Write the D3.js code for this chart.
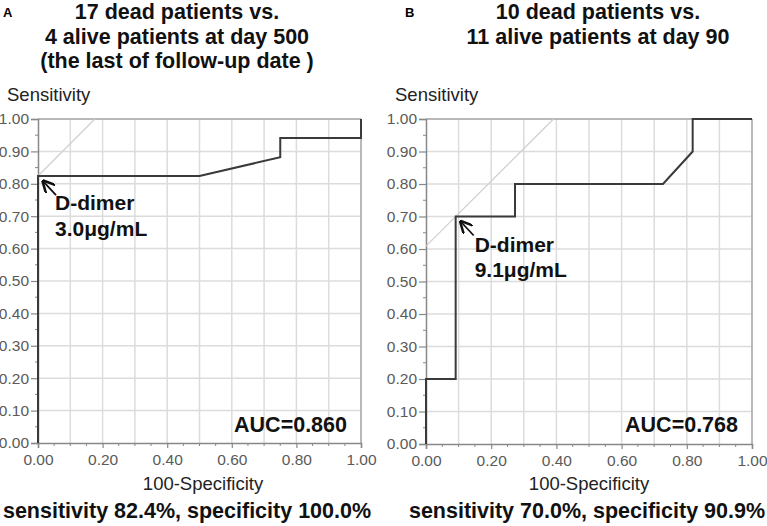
<!DOCTYPE html>
<html><head><meta charset="utf-8">
<script src="https://cdn.jsdelivr.net/npm/d3@7"></script>
<style>body{margin:0;background:#fff;} svg{display:block;font-family:"Liberation Sans",Arial,sans-serif;}</style>
</head><body>
<svg id="c" width="767" height="526"></svg>
<script>
// ---- data ----
const panelLetters = ["A", "B"];
const titlesA = ["17 dead patients vs.", "4 alive patients at day 500", "(the last of follow-up date )"];
const titlesB = ["10 dead patients vs.", "11 alive patients at day 90"];
const fprA = [0, 0, 0.5, 0.75, 0.75, 1, 1];
const tprA = [0, 0.824, 0.824, 0.882, 0.941, 0.941, 1];
const fprB = [0, 0, 0.091, 0.091, 0.273, 0.273, 0.727, 0.818, 0.818, 1];
const tprB = [0, 0.2, 0.2, 0.7, 0.7, 0.8, 0.8, 0.9, 1, 1];
const cutA = {fpr: 0, tpr: 0.824, label: ["D-dimer", "3.0μg/mL"]};
const cutB = {fpr: 0.091, tpr: 0.7, label: ["D-dimer", "9.1μg/mL"]};
const aucA = "AUC=0.860";
const aucB = "AUC=0.768";
const footA = "sensitivity 82.4%, specificity 100.0%";
const footB = "sensitivity 70.0%, specificity 90.9%";
const tickValues = [0, 0.1, 0.2, 0.3, 0.4, 0.5, 0.6, 0.7, 0.8, 0.9, 1.0];
const minorValues = [0.05, 0.15, 0.25, 0.35, 0.45, 0.55, 0.65, 0.75, 0.85, 0.95];
const yLabel = "Sensitivity";
const xLabel = "100-Specificity";

const svg = d3.select("#c");
svg.append("defs").append("marker").attr("id","arr").attr("viewBox","0 0 10 10")
  .attr("refX",9).attr("refY",5).attr("markerWidth",7).attr("markerHeight",7).attr("orient","auto")
  .append("path").attr("d","M0,0 L10,5 L0,10").attr("fill","none").attr("stroke","#111").attr("stroke-width",2);

function panel(o) {
  const g = svg.append("g");
  const x = d3.scaleLinear().domain([0,1]).range([o.x0, o.x1]);
  const y = d3.scaleLinear().domain([0,1]).range([o.y0, o.y1]);
  // letter
  g.append("text").attr("x", o.letterX).attr("y", 17).attr("font-size", 13).attr("font-weight","bold").text(o.letter);
  // title
  o.titles.forEach((t,i)=> g.append("text").attr("x", o.titleCx).attr("y", 19 + i*24.5)
    .attr("text-anchor","middle").attr("font-size", 21.5).attr("font-weight","bold").attr("fill","#111").text(t));
  // y label
  g.append("text").attr("x", o.x0 - 31).attr("y", 101).attr("font-size", 18.5).attr("fill","#222").text(yLabel);
  // grid
  g.append("g").selectAll("line").data(tickValues.slice(1)).join("line")
    .attr("x1", d=>x(d)).attr("x2", d=>x(d)).attr("y1", y(0)).attr("y2", y(1))
    .attr("stroke","#dcdcdc").attr("stroke-width",1.5);
  g.append("g").selectAll("line").data(tickValues.slice(1)).join("line")
    .attr("y1", d=>y(d)).attr("y2", d=>y(d)).attr("x1", x(0)).attr("x2", x(1))
    .attr("stroke","#dcdcdc").attr("stroke-width",1.5);
  // frame top/right
  g.append("line").attr("x1",x(0)).attr("x2",x(1)).attr("y1",y(1)).attr("y2",y(1)).attr("stroke","#aaa").attr("stroke-width",1.5);
  g.append("line").attr("x1",x(1)).attr("x2",x(1)).attr("y1",y(0)).attr("y2",y(1)).attr("stroke","#aaa").attr("stroke-width",1.5);
  // axes
  const ya = d3.axisLeft(y).tickValues(tickValues).tickFormat(d3.format(".2f")).tickSize(7).tickPadding(2);
  const yg = g.append("g").attr("transform",`translate(${x(0)},0)`).call(ya);
  const xa = d3.axisBottom(x).tickValues(tickValues.filter((d,i)=>i%2===0)).tickFormat(d3.format(".2f")).tickSize(5).tickPadding(6);
  const xg = g.append("g").attr("transform",`translate(0,${y(0)})`).call(xa);
  [yg,xg].forEach(a=>{
    a.select(".domain").attr("stroke","#888").attr("stroke-width",1.5);
    a.selectAll(".tick line").attr("stroke","#888").attr("stroke-width",1.2);
    a.selectAll(".tick text").attr("font-size",15.5).attr("fill","#5a5a5a").attr("font-family","Liberation Sans, Arial, sans-serif");
  });
  // minor / odd ticks
  g.append("g").selectAll("line").data(minorValues).join("line")
    .attr("x1", x(0)-3).attr("x2", x(0)).attr("y1", d=>y(d)).attr("y2", d=>y(d)).attr("stroke","#888");
  g.append("g").selectAll("line").data(minorValues.concat([0.1,0.3,0.5,0.7,0.9])).join("line")
    .attr("y1", y(0)).attr("y2", y(0)+3).attr("x1", d=>x(d)).attr("x2", d=>x(d)).attr("stroke","#888");
  // x label
  g.append("text").attr("x", o.xLabCx).attr("y", 490).attr("text-anchor","middle").attr("font-size",18.5).attr("fill","#222").text(xLabel);
  // tangent line through cutoff
  const c = o.tpr_cut - o.fpr_cut;
  g.append("line").attr("x1", x(0)).attr("y1", y(c)).attr("x2", x(1-c)).attr("y2", y(1))
    .attr("stroke","#cfcfcf").attr("stroke-width",1.2);
  // ROC curve
  const pts = o.fpr.map((f,i)=>[f, o.tpr[i]]);
  g.append("path").datum(pts).attr("d", d3.line().x(d=>x(d[0])).y(d=>y(d[1])))
    .attr("fill","none").attr("stroke","#3a3a3a").attr("stroke-width",2);
  // annotation
  const ax = x(o.fpr_cut), ay = y(o.tpr_cut);
  g.append("line").attr("x1", ax+18).attr("y1", ay+19).attr("x2", ax+5).attr("y2", ay+5)
    .attr("stroke","#111").attr("stroke-width",1.8).attr("marker-end","url(#arr)");
  o.label.forEach((t,i)=> g.append("text").attr("x", ax+o.labDx).attr("y", ay+o.labDy+i*25.5)
    .attr("font-size",21).attr("font-weight","bold").attr("fill","#111").text(t));
  // AUC
  g.append("text").attr("x", o.aucX).attr("y", 432).attr("text-anchor","end").attr("font-size",21.5)
    .attr("font-weight","bold").attr("fill","#111").text(o.auc);
  // footer
  g.append("text").attr("x", o.footCx).attr("y", 518).attr("text-anchor","middle").attr("font-size",21.5)
    .attr("font-weight","bold").attr("fill","#111").text(o.foot);
}

panel({letter: panelLetters[0], letterX: 3, titles: titlesA, titleCx: 177, x0: 38, x1: 361, y0: 443, y1: 119,
  fpr: fprA, tpr: tprA, fpr_cut: cutA.fpr, tpr_cut: cutA.tpr, label: cutA.label, labDx: 17, labDy: 34,
  auc: aucA, aucX: 347, foot: footA, footCx: 187, xLabCx: 203});
panel({letter: panelLetters[1], letterX: 405, titles: titlesB, titleCx: 598, x0: 426, x1: 752, y0: 444, y1: 119,
  fpr: fprB, tpr: tprB, fpr_cut: cutB.fpr, tpr_cut: cutB.tpr, label: cutB.label, labDx: 19, labDy: 35,
  auc: aucB, aucX: 738, foot: footB, footCx: 587, xLabCx: 589});
</script>
</body></html>
